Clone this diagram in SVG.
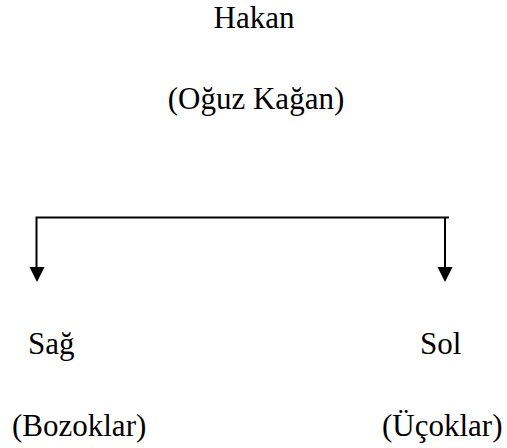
<svg xmlns="http://www.w3.org/2000/svg" width="507" height="448" viewBox="0 0 507 448">
<style>
text{font-family:'Liberation Serif','Times New Roman',serif;font-size:31px;fill:#000}
.ln{stroke:#000;stroke-width:2;fill:none}
.ah{fill:#000}
</style>
<rect width="507" height="448" fill="#fff"/>
<g id="hakan">
<text x="254" y="27.5" text-anchor="middle">Hakan</text>
<text x="256" y="109" text-anchor="middle">(Oğuz Kağan)</text>
</g>
<g id="connectors">
<path class="ln" d="M36.5,270 V217.5 H449"/>
<path class="ln" d="M445,217.5 V270"/>
<path class="ah" d="M29.5,267 L44.5,267 L37,282 Z"/>
<path class="ah" d="M437.5,267 L452.5,267 L445,282 Z"/>
</g>
<g id="sag">
<text x="28" y="353.5">Sağ</text>
<text x="12" y="436">(Bozoklar)</text>
</g>
<g id="sol">
<text x="420" y="353.5">Sol</text>
<text x="382" y="436">(Üçoklar)</text>
</g>
</svg>
